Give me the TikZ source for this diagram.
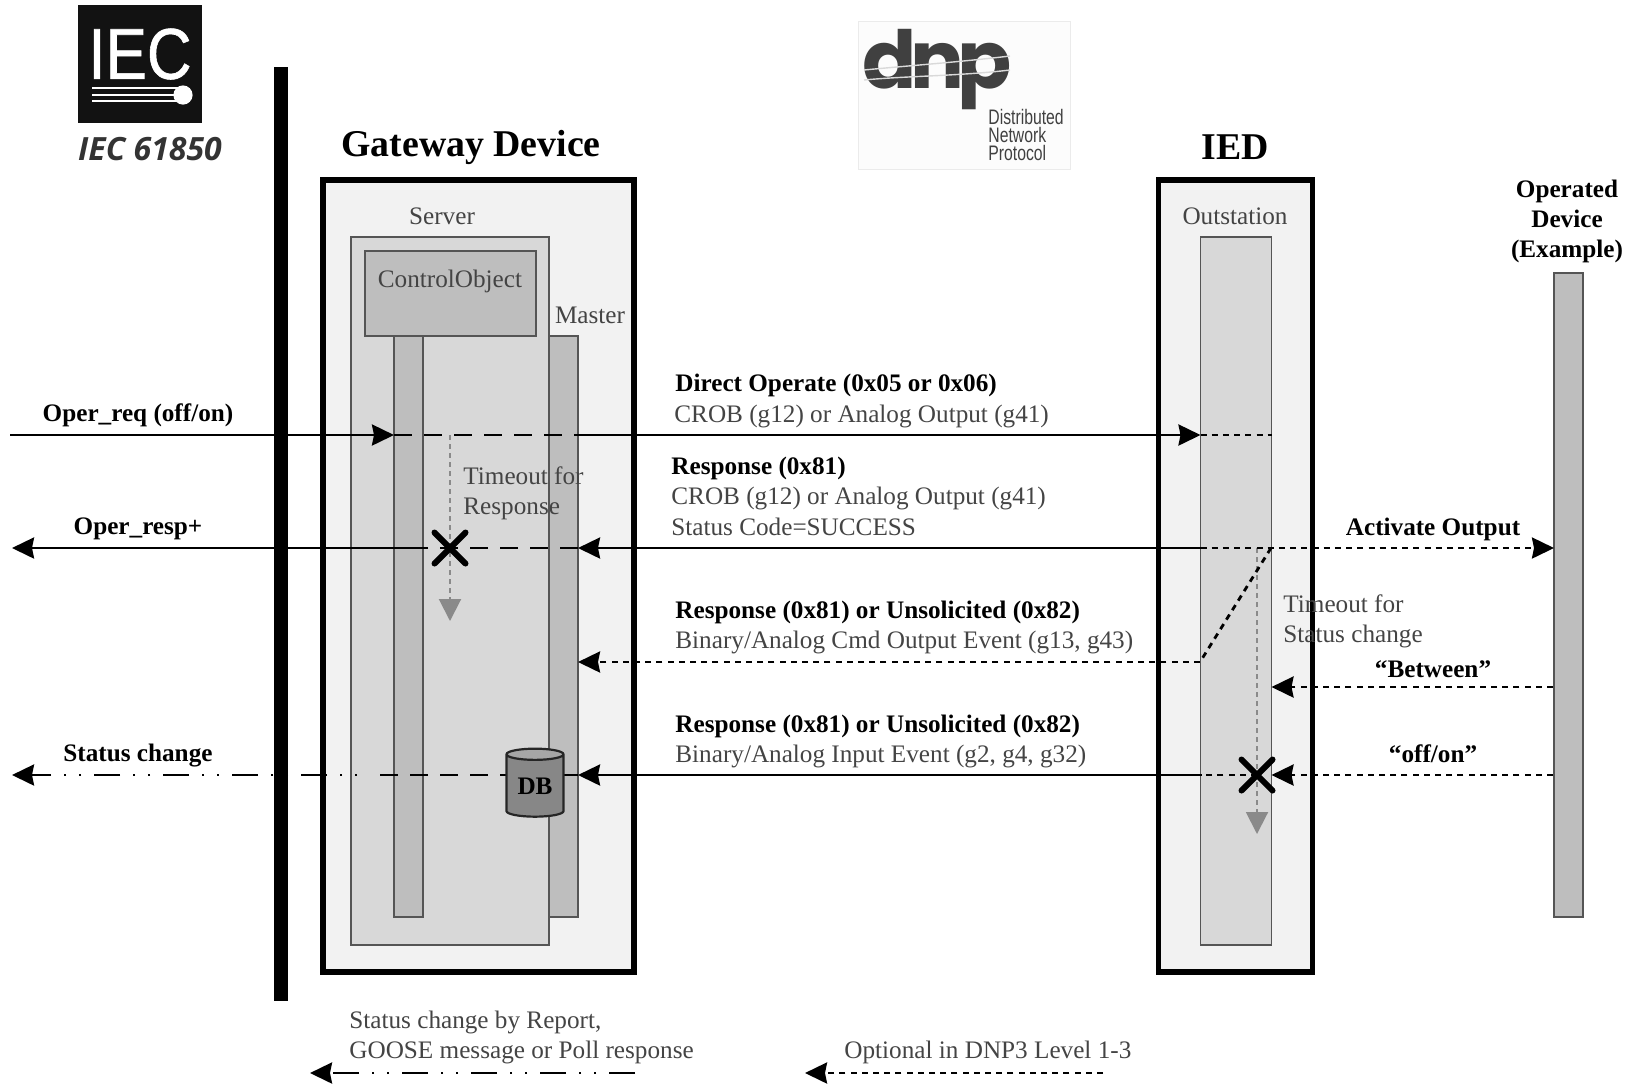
\documentclass[tikz,border=0pt]{standalone}
\usepackage{fontspec}
\setmainfont{Liberation Serif}
\newfontfamily\logofont[FakeStretch=0.75]{Liberation Sans}
\newfontfamily\ieclogofont[FakeStretch=0.86,FakeBold=0.8]{Liberation Sans}
\newfontfamily\iecfont{Open Sans}
\newfontfamily\dnpfont{Poppins}
\usepackage{tikz}
\usetikzlibrary{positioning,arrows.meta,calc,shapes.geometric,shapes.misc}
\definecolor{panelGray}{HTML}{F2F2F2}
\definecolor{layerGray}{HTML}{D8D8D8}
\definecolor{barGray}{HTML}{BEBEBE}
\definecolor{edgeGray}{HTML}{555555}
\definecolor{textGray}{HTML}{444444}
\definecolor{timerGray}{HTML}{8A8A8A}

\begin{document}
\begin{tikzpicture}[x=0.5pt, y=-0.5pt, >={Stealth[length=11pt, width=10.5pt, inset=1pt]},
      box/.style={draw=edgeGray, line width=0.7pt, anchor=north west, inner sep=0pt, outer sep=0pt},
      device/.style={box, draw=black, line width=2.6pt, fill=panelGray},
      layer/.style={box, fill=layerGray},
      bar/.style={box, fill=barGray},
      note/.style={font=\fontsize{12.6}{14.5}\selectfont, text=textGray, align=left, inner sep=0pt},
      noteleft/.style={note, anchor=west},
      msg/.style={note, text=black, font=\fontsize{12.6}{14.5}\selectfont\bfseries},
      msgleft/.style={msg, anchor=west},
      title/.style={font=\fontsize{18.9}{21}\selectfont\bfseries, inner sep=0pt},
      link/.style={line width=1.4pt, color=black},
      linkdash/.style={link, dash pattern=on 9pt off 6pt},
      linkdot/.style={link, dash pattern=on 3pt off 2.6pt},
      linkchain/.style={link, dash pattern=on 13pt off 6.5pt on 1pt off 6.5pt on 1pt off 6.5pt},
      timer/.style={line width=1pt, color=timerGray, dash pattern=on 2.5pt off 2pt,
        >={Stealth[length=11pt, width=11pt, inset=0pt]}},
      crossx/.style={cross out, draw=black, line width=3pt, line cap=round, minimum size=12.5pt, inner sep=0pt}]
    \useasboundingbox (0,0) rectangle (1638,1084);
    % logos
    \node[fill=black!93, minimum width=62pt, minimum height=59pt, anchor=north west, inner sep=0pt] (ieclogo) at (78,5) {};
    \node[text=white, font=\ieclogofont\fontsize{36}{36}\selectfont, inner sep=0pt] (iectext) at (140,54) {IEC};
    \foreach \y in {88,95,101} {
      \draw[white, line width=1.2pt] (92,\y) -- (178,\y);
    }
    \fill[white] (183,95) circle (4.8pt);
    \node[font=\iecfont\fontsize{16}{18}\selectfont\bfseries\itshape, text=black!80, inner sep=0pt] (iecname) at (150,149) {IEC 61850};
    \node[draw=black!8, fill=black!1, line width=0.6pt, minimum width=106pt, minimum height=74pt, anchor=north west, inner sep=0pt] (dnplogo) at (858,21) {};
    \node[text=black!75, font=\dnpfont\fontsize{40}{40}\selectfont\bfseries, inner sep=0pt] (dnptext) at (937,70) {d\kern-3.2pt n\kern-3.2pt p};
    \draw[white!85!black, line width=0.7pt] (864,70) .. controls (905,66) and (960,62) .. (1010,56);
    \draw[white!85!black, line width=0.7pt] (864,80) .. controls (905,76) and (960,76) .. (1010,70);
    \node[font=\logofont\fontsize{10.5}{9}\selectfont, text=black!75, align=left, anchor=north west, inner sep=0pt] (dnpname) at (988,109) {Distributed\\Network\\Protocol};
    % interface bar and devices
    \node[fill=black, minimum width=7pt, minimum height=467pt, anchor=north west, inner sep=0pt] (bus) at (274,67) {};
    \node[device, minimum width=155.5pt, minimum height=396pt] (gateway) at (323,180) {};
    \node[title] (gwtitle) at (471,147) {Gateway Device};
    \node[bar, minimum width=14.5pt, minimum height=290.5pt] (masterbar) at (549,336) {};
    \node[layer, minimum width=99pt, minimum height=354pt] (server) at (351,237) {};
    \node[bar, minimum width=85.5pt, minimum height=42.5pt] (ctrlobj) at (365,251) {};
    \node[bar, minimum width=14.5pt, minimum height=290.5pt] (ctrlbar) at (394,336) {};
    \node[device, minimum width=77pt, minimum height=396pt] (ied) at (1158.5,180) {};
    \node[title] (iedtitle) at (1235,147) {IED};
    \node[layer, minimum width=35.5pt, minimum height=354pt] (outst) at (1200.5,237) {};
    \node[bar, minimum width=14.5pt, minimum height=322pt] (opdev) at (1554,273) {};
    \node[note] (srvlabel) at (442,216) {Server};
    \node[note] (ctrllabel) at (450,281) {ControlObject};
    \node[note] (mastlabel) at (590,315) {Master};
    \node[note] (outlabel) at (1235,216) {Outstation};
    \node[msg, align=center, font=\fontsize{12.6}{15}\selectfont\bfseries] (oplabel) at (1567,221) {Operated\\Device\\(Example)};
    % rows
    \coordinate (reqin) at (10,435);
    \coordinate (respout) at (12,548);
    \coordinate (statout) at (12,775);
    \coordinate (statmid) at (370,775);
    \coordinate (respmid) at (417,548);
    \coordinate (reqx) at (450,435);
    \coordinate (respx) at (450,548);
    \coordinate (reqend) at (578,435);
    \coordinate (actx) at (1271,548);
    \coordinate (evtx) at (1200,662);
    \coordinate (statx) at (1257,775);
    \coordinate (betw) at (1553,687);
    \coordinate (off) at (1553,775);
    % timers
    \draw[timer, ->] (reqx) -- ++(0,186) coordinate (reqtimer);
    \draw[timer, ->] (statx |- actx) -- ++(0,286) coordinate (stattimer);
    % request and response
    \draw[link, ->] (reqin) -- (ctrlbar.west |- reqin);
    \draw[linkdash] (ctrlbar.west |- reqin) -- (reqend);
    \draw[link, ->] (reqend) -- (outst.west |- reqin);
    \draw[linkdot] (outst.west |- reqin) -- (outst.east |- reqin);
    \draw[link, ->] (respmid) -- (respout);
    \draw[linkdash] (masterbar.east |- respout) -- (respmid);
    \draw[link, ->] (outst.west |- respout) -- (masterbar.east |- respout);
    \draw[linkdot, ->] (outst.west |- respout) -- (opdev.west |- respout);
    \draw[linkdot] (actx) -- (evtx);
    \draw[linkdot, ->] (evtx) -- (masterbar.east |- evtx);
    \draw[linkdot, ->] (betw) -- (outst.east |- betw);
    % status change
    \draw[linkdot, ->] (off) -- (outst.east |- off);
    \draw[linkdot] (statx) -- (outst.west |- statx);
    \draw[link, ->] (outst.west |- statx) -- (masterbar.east |- statx);
    \draw[linkdash] (masterbar.east |- statx) -- (statmid);
    \draw[linkchain, dash phase=13pt, ->] (statmid) -- (statout);
    \node[cylinder, shape border rotate=90, aspect=0.32, draw=black!85, line width=1.1pt, cylinder uses custom fill,
      cylinder body fill=black!47, cylinder end fill=black!35, minimum width=28.5pt, minimum height=34pt,
      inner sep=0pt, font=\fontsize{12.6}{14}\selectfont\bfseries] (db) at (535,786) {DB};
    \node[crossx] (respcross) at (respx) {};
    \node[crossx] (statcross) at (statx) {};
    % texts
    \node[msg] (reqlabel) at (138,415) {Oper\_req (off/on)};
    \node[msg] (resplabel) at (138,529) {Oper\_resp+};
    \node[msg] (statlabel) at (138,756) {Status change};
    \node[noteleft, font=\fontsize{12.6}{15}\selectfont] (t1) at (463,493) {Timeout for\\Response};
    \node[noteleft, font=\fontsize{12.6}{15}\selectfont] (t2) at (1283,621) {Timeout for\\Status change};
    \node[msgleft] (m1) at (675,385) {Direct Operate (0x05 or 0x06)};
    \node[noteleft] (m1a) at (674,416) {CROB (g12) or Analog Output (g41)};
    \node[msgleft] (m2) at (671,468) {Response (0x81)};
    \node[noteleft] (m2a) at (671,498) {CROB (g12) or Analog Output (g41)};
    \node[noteleft] (m2b) at (671,527) {Status Code=SUCCESS};
    \node[msgleft] (m3) at (675,612) {Response (0x81) or Unsolicited (0x82)};
    \node[noteleft] (m3a) at (675,642) {Binary/Analog Cmd Output Event (g13, g43)};
    \node[msgleft] (m4) at (675,726) {Response (0x81) or Unsolicited (0x82)};
    \node[noteleft] (m4a) at (675,756) {Binary/Analog Input Event (g2, g4, g32)};
    \node[msg] (actlabel) at (1433,529) {Activate Output};
    \node[msg] (betlabel) at (1433,669) {``Between''};
    \node[msg] (offlabel) at (1433,754) {``off/on''};
    % legend
    \node[noteleft, font=\fontsize{12.6}{15}\selectfont] (leg1) at (349,1037) {Status change by Report,\\GOOSE message or Poll response};
    \node[noteleft] (leg2) at (844,1052) {Optional in DNP3 Level 1-3};
    \coordinate (leg1a) at (635,1073);
    \coordinate (leg1b) at (310,1073);
    \coordinate (leg2a) at (1103,1073);
    \coordinate (leg2b) at (805,1073);
    \draw[linkchain, ->] (leg1a) -- (leg1b);
    \draw[linkdot, ->] (leg2a) -- (leg2b);
  \end{tikzpicture}
\end{document}
